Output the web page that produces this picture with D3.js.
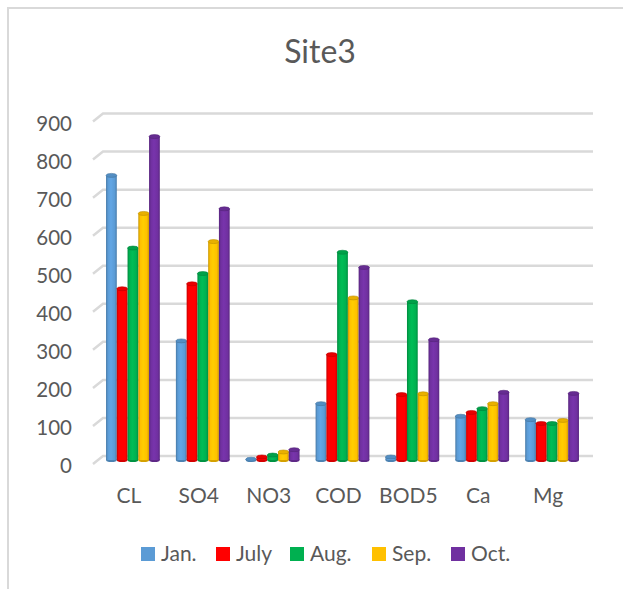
<!DOCTYPE html>
<html>
<head>
<meta charset="utf-8">
<script src="https://cdn.jsdelivr.net/npm/d3@7"></script>
<style>
  body { margin: 0; background: #fff; }
  text { font-family: Lato, "Open Sans", sans-serif; fill: #595959; }
</style>
</head>
<body>
<svg id="chart-svg" width="623" height="589"></svg>
<script>
const categories = ["CL", "SO4", "NO3", "COD", "BOD5", "Ca", "Mg"];
const seriesNames = ["Jan.", "July", "Aug.", "Sep.", "Oct."];
const seriesColors = ["#5b9bd5", "#ff0000", "#00b050", "#ffc000", "#7030a0"];
const jan  = [748, 313, 2, 148, 8, 115, 106];
const july = [450, 463, 8, 277, 172, 125, 96];
const aug  = [557, 490, 13, 546, 416, 135, 96];
const sep  = [648, 574, 21, 426, 174, 148, 104];
const oct  = [850, 660, 27, 506, 316, 178, 175];
const yTicks = [0, 100, 200, 300, 400, 500, 600, 700, 800, 900];

const values = [jan, july, aug, sep, oct];
const svg = d3.select("#chart-svg");
const depth = { dx: 5, dy: 4 }; // half depth offset of the 3D floor

// outer frame (cut by the window on right and bottom)
svg.append("rect")
    .attr("x", 8).attr("y", 8)
    .attr("width", 700).attr("height", 700)
    .attr("fill", "#fff")
    .attr("stroke", "#d9d9d9")
    .attr("stroke-width", 2);

const x = d3.scaleBand()
    .domain(categories)
    .range([98, 587])
    .paddingInner(0.23)
    .paddingOuter(0.115);

const xs = d3.scaleBand()
    .domain(seriesNames)
    .range([0, x.bandwidth()]);

const y = d3.scaleLinear()
    .domain([0, 900])
    .range([460, 460 - 0.3805 * 900]);

// gradients for the cylinder look
const defs = svg.append("defs");
seriesColors.forEach((c, i) => {
    const g = defs.append("linearGradient")
        .attr("id", "grad" + i)
        .attr("x1", "0%").attr("x2", "100%")
        .attr("y1", "0%").attr("y2", "0%");
    const base = d3.color(c);
    g.append("stop").attr("offset", "0%").attr("stop-color", base.darker(0.7));
    g.append("stop").attr("offset", "18%").attr("stop-color", base);
    g.append("stop").attr("offset", "45%").attr("stop-color", base.brighter(0.2));
    g.append("stop").attr("offset", "80%").attr("stop-color", base);
    g.append("stop").attr("offset", "100%").attr("stop-color", base.darker(0.6));
});

// gridlines: slanted side wall part + back wall
const grid = svg.append("g");
yTicks.forEach(t => {
    const yy = y(t);
    grid.append("path")
        .attr("d", `M${x.range()[0] - depth.dx},${yy + depth.dy} L${x.range()[0] + depth.dx},${yy - depth.dy} L593,${yy - depth.dy}`)
        .attr("fill", "none")
        .attr("stroke", "#d9d9d9")
        .attr("stroke-width", 2.5);
});

// y tick labels
svg.append("g").selectAll("text")
    .data(yTicks)
    .enter()
    .append("text")
    .attr("x", 72)
    .attr("y", d => y(d) + depth.dy + 2)
    .attr("dy", "0.35em")
    .attr("text-anchor", "end")
    .style("font-size", "20.5px")
    .text(d => d);

// bars
const bars = svg.append("g");
categories.forEach((cat, ci) => {
    seriesNames.forEach((s, si) => {
        const v = values[si][ci];
        const bx = x(cat) + xs(s);
        const w = xs.bandwidth();
        const base = d3.color(seriesColors[si]);
        bars.append("ellipse")
            .attr("cx", bx + w / 2).attr("cy", y(0))
            .attr("rx", w / 2).attr("ry", 2)
            .attr("fill", base.darker(0.5));
        bars.append("rect")
            .attr("x", bx)
            .attr("y", y(v))
            .attr("width", w)
            .attr("height", y(0) - y(v))
            .attr("fill", `url(#grad${si})`);
        bars.append("ellipse")
            .attr("cx", bx + w / 2).attr("cy", y(v))
            .attr("rx", w / 2).attr("ry", 2)
            .attr("fill", base.darker(0.25))
            .attr("stroke", base.darker(0.8))
            .attr("stroke-width", 0.6);
    });
});

// category labels
svg.append("g").selectAll("text")
    .data(categories)
    .enter()
    .append("text")
    .attr("x", d => x(d) + x.bandwidth() / 2 - 4)
    .attr("y", 503)
    .attr("text-anchor", "middle")
    .style("font-size", "21px")
    .text(d => d);

// title
svg.append("text")
    .attr("x", 320)
    .attr("y", 63)
    .attr("text-anchor", "middle")
    .style("font-size", "32px")
    .text("Site3");

// legend
const legendX = [141, 216, 290, 372, 451];
const legend = svg.append("g");
seriesNames.forEach((s, i) => {
    legend.append("rect")
        .attr("x", legendX[i]).attr("y", 547)
        .attr("width", 14).attr("height", 14)
        .attr("fill", seriesColors[i]);
    legend.append("text")
        .attr("x", legendX[i] + 20)
        .attr("y", 561)
        .style("font-size", "21px")
        .text(s);
});
</script>
</body>
</html>
